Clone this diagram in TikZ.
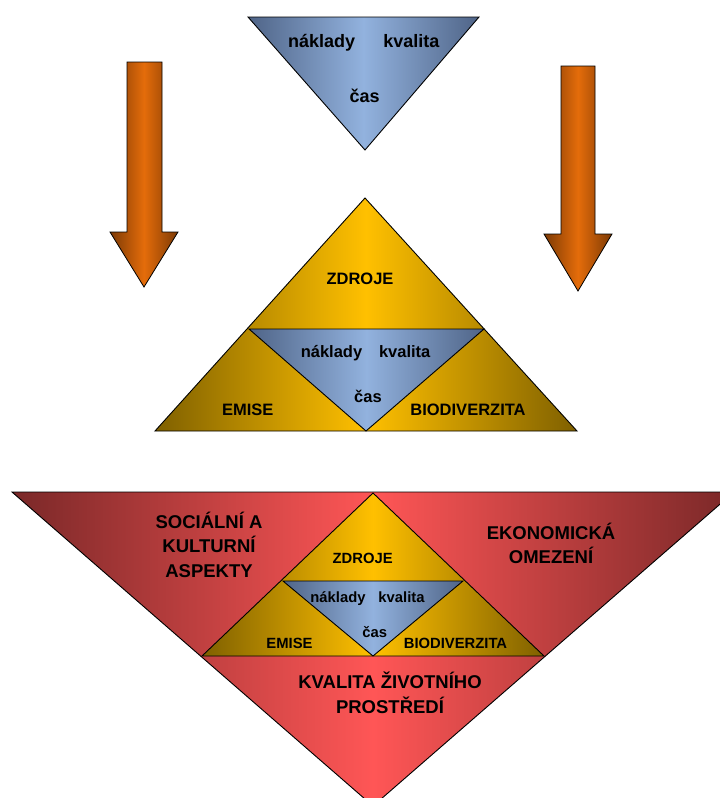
\documentclass[tikz,border=0pt]{standalone}
\usepackage{fontspec}
\setmainfont{Liberation Sans}

\definecolor{blueedge}{RGB}{79,100,135}
\definecolor{bluemid}{RGB}{146,178,222}
\definecolor{goldedge}{RGB}{127,96,0}
\definecolor{goldmid}{RGB}{255,192,0}
\definecolor{rededge}{RGB}{122,40,40}
\definecolor{redmid}{RGB}{255,86,86}
\definecolor{orangeedge}{RGB}{125,58,5}
\definecolor{orangemid}{RGB}{228,108,10}

\tikzset{
    bluetri/.style={draw, line width=0.9pt, left color=blueedge, right color=blueedge, middle color=bluemid},
    goldtri/.style={draw, line width=0.9pt, left color=goldedge, right color=goldedge, middle color=goldmid},
    redtri/.style={draw, line width=0.9pt, left color=rededge, right color=rededge, middle color=redmid},
    downarrow/.style={draw, line width=0.8pt, left color=orangeedge, right color=orangeedge, middle color=orangemid},
    lbl/.style={anchor=base, inner sep=0pt, align=center},
    sizeA/.style={lbl, font=\fontsize{18}{22}\selectfont\bfseries},
    sizeB/.style={lbl, font=\fontsize{16.5}{20}\selectfont\bfseries},
    sizeC/.style={lbl, font=\fontsize{14.8}{18}\selectfont\bfseries},
    sizeD/.style={lbl, font=\fontsize{18.5}{24.5}\selectfont\bfseries}
}

\begin{document}
\begin{tikzpicture}[x=1pt, y=-1pt]
    \useasboundingbox (0,0) rectangle (720,798);
    \clip (0,0) rectangle (720,798);

    % arrows on both sides
    \path[downarrow] (127,62) -- (162,62) -- (162,232) -- (178,232)
        -- (144,287) -- (110,232) -- (127,232) -- cycle;
    \path[downarrow] (561,66) -- (595,66) -- (595,234) -- (612,234)
        -- (578,291) -- (544,234) -- (561,234) -- cycle;

    % top
    \path[bluetri] (248,17) -- (479,17) -- (365,150) -- cycle;
    \node[sizeA, name=nak1] at (321.7,47) {náklady};
    \node[sizeA, name=kva1] at (411.3,47) {kvalita};
    \node[sizeA, name=cas1] at (364.7,102) {čas};

    % middle
    \path[goldtri] (365,198) -- (577,431) -- (155,431) -- cycle;
    \path[bluetri] (249,329) -- (484,329) -- (366,431) -- cycle;
    \node[sizeB, name=zdr2] at (360,284) {ZDROJE};
    \node[sizeB, name=nak2] at (331.5,357) {náklady};
    \node[sizeB, name=kva2] at (404.7,357) {kvalita};
    \node[sizeB, name=cas2] at (368,402) {čas};
    \node[sizeB, name=emi2] at (247.7,415) {EMISE};
    \node[sizeB, name=bio2] at (468,415) {BIODIVERZITA};

    % bottom
    \path[redtri] (12,492) -- (734,492) -- (373,806) -- cycle;
    \path[goldtri] (373,493) -- (544,656) -- (202,656) -- cycle;
    \path[bluetri] (283,581) -- (463,581) -- (373,656) -- cycle;
    \node[sizeC, name=zdr3] at (362.7,563) {ZDROJE};
    \node[sizeC, name=nak3] at (338,602) {náklady};
    \node[sizeC, name=kva3] at (401.5,602) {kvalita};
    \node[sizeC, name=cas3] at (374.7,637) {čas};
    \node[sizeC, name=emi3] at (289.5,648) {EMISE};
    \node[sizeC, name=bio3] at (455.5,648) {BIODIVERZITA};

    \node[sizeD, name=soc] at (209,577) {SOCIÁLNÍ A\\KULTURNÍ\\ASPEKTY};
    \node[sizeD, name=eko] at (551,563.5) {EKONOMICKÁ\\OMEZENÍ};
    \node[sizeD, name=kzp] at (390,713) {KVALITA ŽIVOTNÍHO\\PROSTŘEDÍ};
\end{tikzpicture}
\end{document}
